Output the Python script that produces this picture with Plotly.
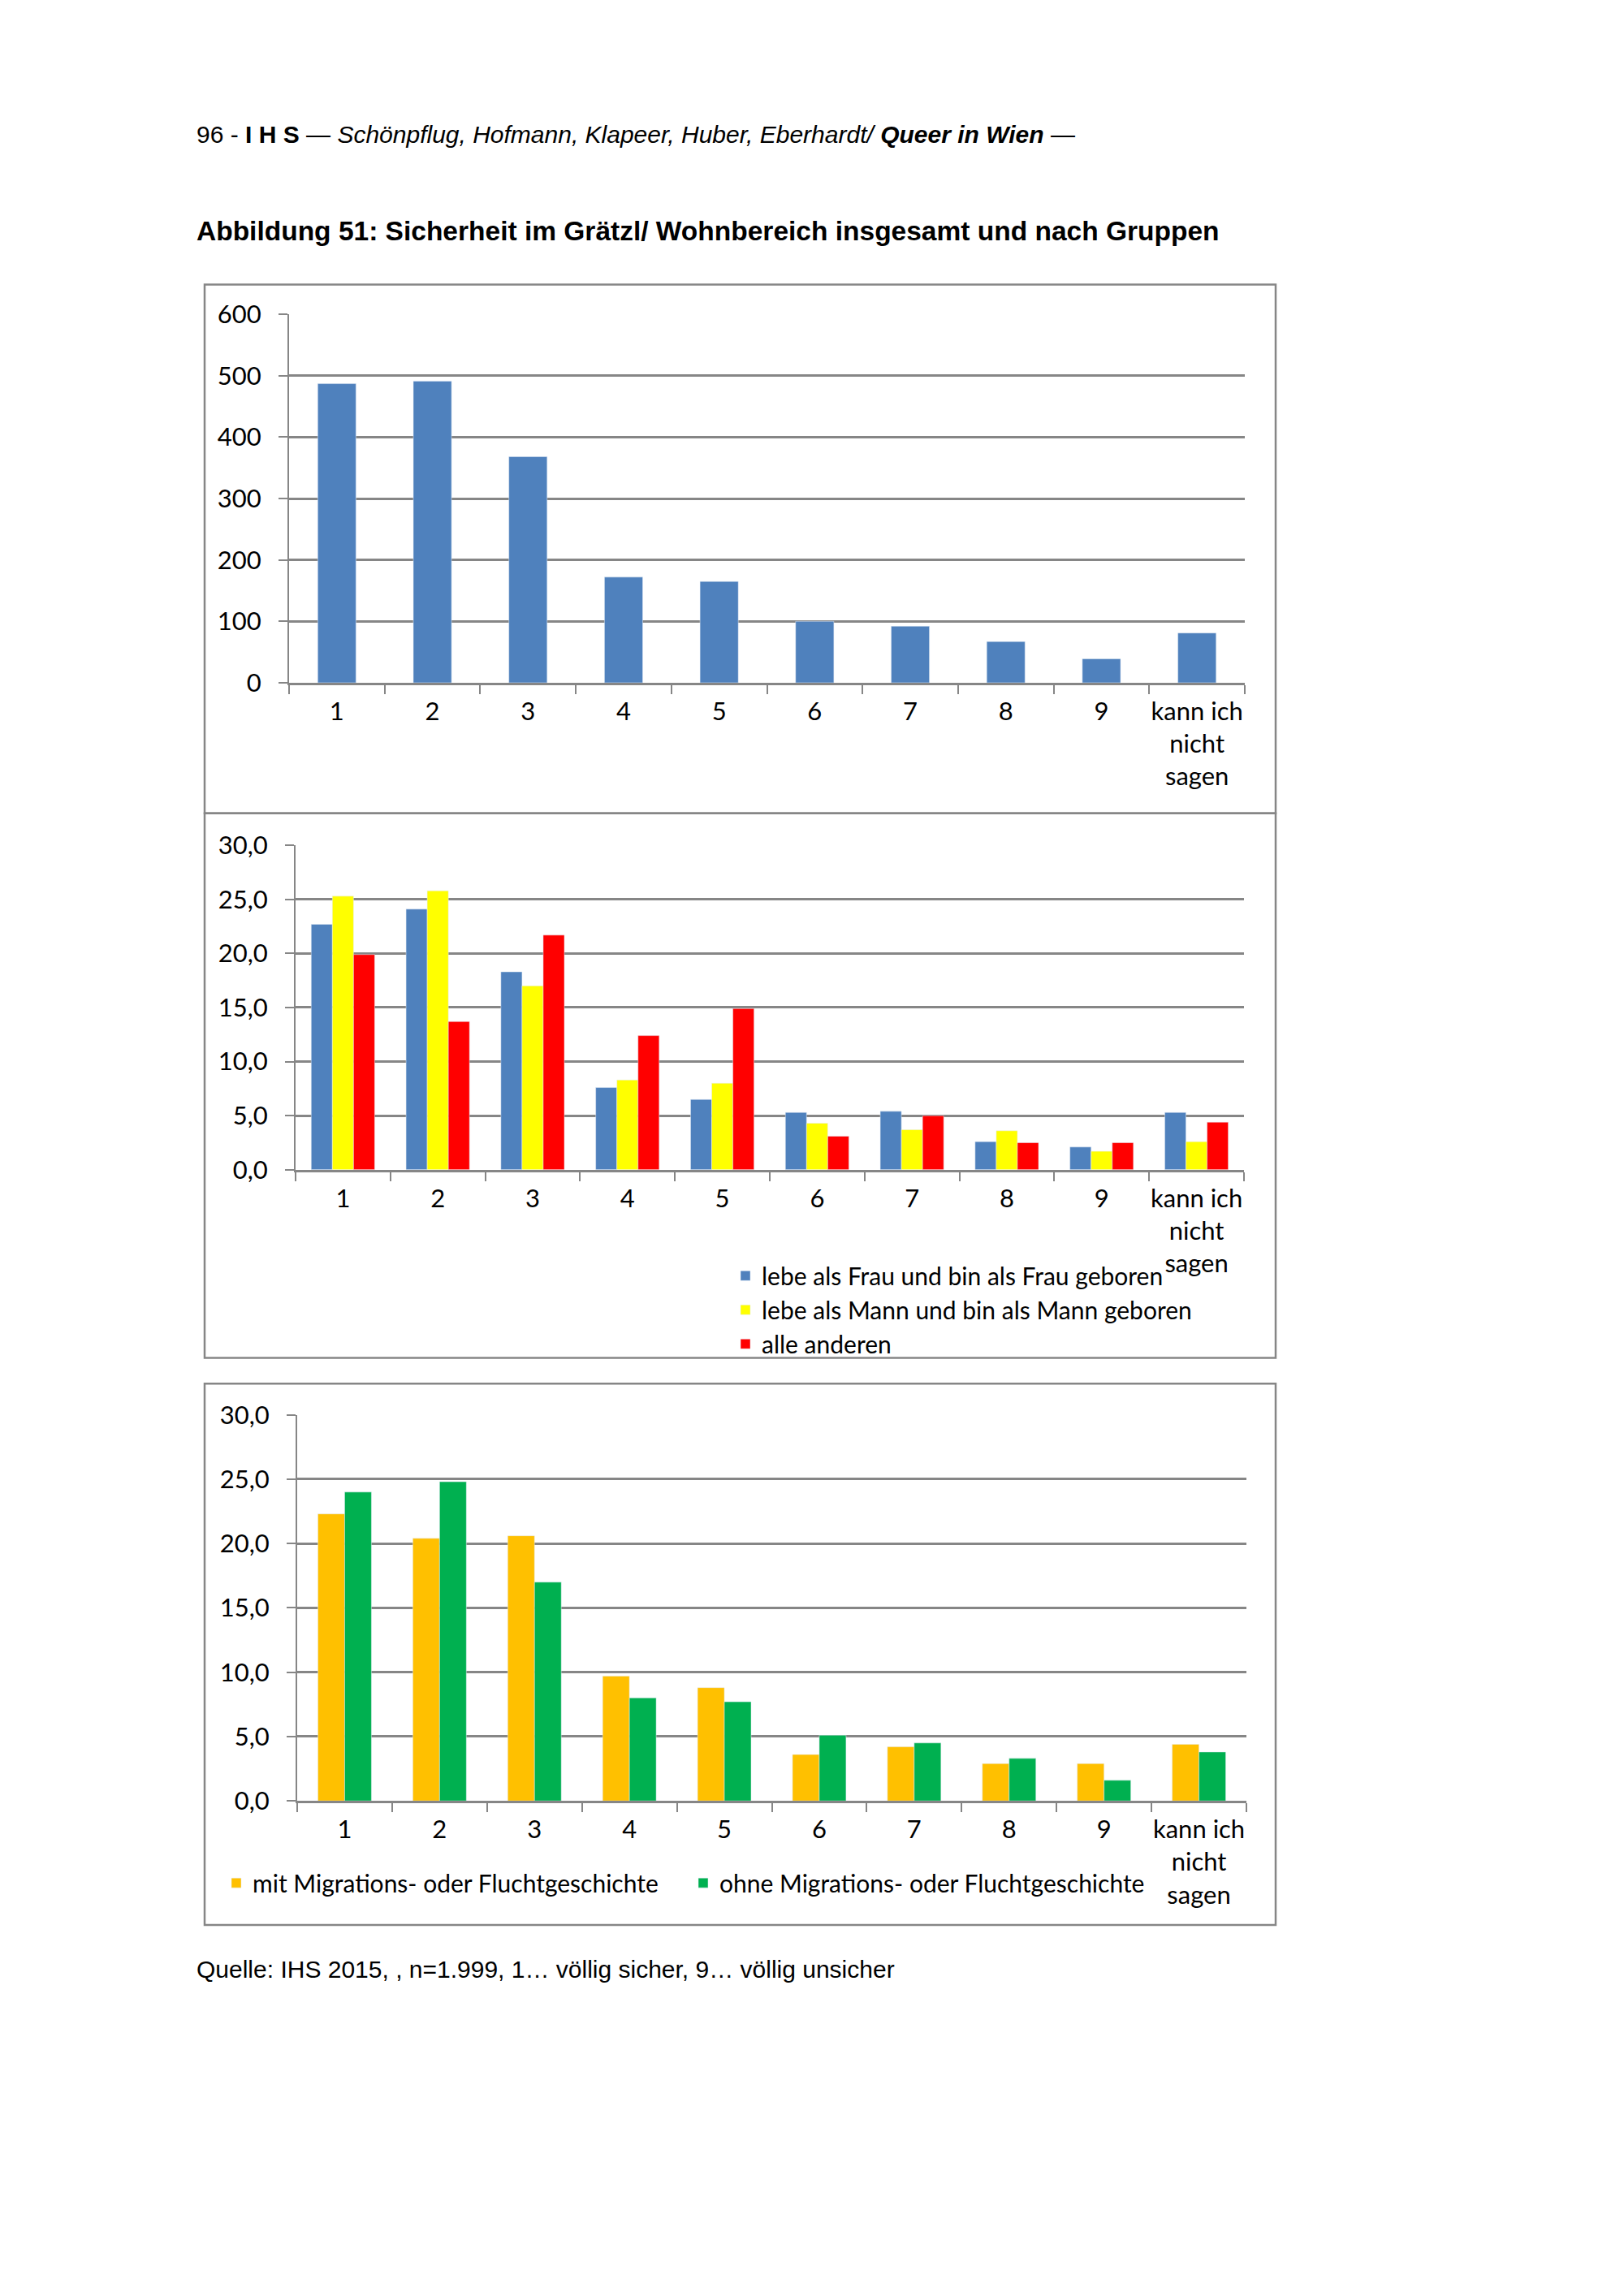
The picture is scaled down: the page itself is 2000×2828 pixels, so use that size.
import plotly.graph_objects as go

W, H = 2000, 2828

# --- Daten ---
kategorien = ["1", "2", "3", "4", "5", "6", "7", "8", "9", "kann ich<br>nicht<br>sagen"]

gesamt = [487, 491, 368, 172, 165, 100, 92, 67, 39, 81]

frau = [22.7, 24.1, 18.3, 7.6, 6.5, 5.3, 5.4, 2.6, 2.1, 5.3]
mann = [25.3, 25.8, 17.0, 8.3, 8.0, 4.3, 3.7, 3.6, 1.7, 2.6]
andere = [19.9, 13.7, 21.7, 12.4, 14.9, 3.1, 5.0, 2.5, 2.5, 4.4]

mit_migration = [22.3, 20.4, 20.6, 9.7, 8.8, 3.6, 4.2, 2.9, 2.9, 4.4]
ohne_migration = [24.0, 24.8, 17.0, 8.0, 7.7, 5.1, 4.5, 3.3, 1.6, 3.8]

namen_gender = ["lebe als Frau und bin als Frau geboren",
                "lebe als Mann und bin als Mann geboren",
                "alle anderen"]
namen_migration = ["mit Migrations- oder Fluchtgeschichte",
                   "ohne Migrations- oder Fluchtgeschichte"]

GRAU = "#868686"
FONT = "Lato"
FS = 31
FS_LEG = 30
RAND = 8  # Body-Rand der HTML-Seite


def px_x(p):
    return (p - RAND) / W


def px_y(p):
    return 1 - (p - RAND) / H


fig = go.Figure()

# Diagramm 1: insgesamt
fig.add_trace(go.Bar(x=kategorien, y=gesamt, marker_color="#4F81BD", width=0.4, offset=-0.2,
                     showlegend=False, xaxis="x", yaxis="y"))

# Diagramm 2: nach Geschlecht
farben2 = ["#4F81BD", "#FFFF00", "#FF0000"]
for i, (name, werte) in enumerate(zip(namen_gender, [frau, mann, andere])):
    fig.add_trace(go.Bar(x=kategorien, y=werte, name=name, marker_color=farben2[i],
                         width=0.223, offset=-0.335 + i * 0.223,
                         xaxis="x2", yaxis="y2", legend="legend2"))

# Diagramm 3: nach Migrationsgeschichte (je Eintrag eine eigene Legende)
farben3 = ["#FFC000", "#00B050"]
legenden3 = ["legend3", "legend4"]
for i, (name, werte) in enumerate(zip(namen_migration, [mit_migration, ohne_migration])):
    fig.add_trace(go.Bar(x=kategorien, y=werte, name=name, marker_color=farben3[i],
                         width=0.282, offset=-0.282 + i * 0.282,
                         xaxis="x3", yaxis="y3", legend=legenden3[i]))


def xachse(x0, x1, anchor):
    return dict(domain=[px_x(x0), px_x(x1)], anchor=anchor, type="category",
                showline=True, linecolor=GRAU, linewidth=2.5,
                ticks="outside", tickson="boundaries", ticklen=11, tickwidth=2, tickcolor=GRAU,
                showgrid=False, tickangle=0, tickfont=dict(family=FONT, size=FS, color="black"),
                ticklabelstandoff=6, fixedrange=True)


def yachse(y_top, y_bot, rng, dtick, fmt, anchor):
    return dict(domain=[px_y(y_bot), px_y(y_top)], anchor=anchor, range=rng, dtick=dtick,
                tickformat=fmt, showline=True, linecolor=GRAU, linewidth=2,
                showgrid=True, gridcolor=GRAU, gridwidth=2.5, zeroline=False,
                ticks="outside", ticklen=11, tickwidth=2, tickcolor=GRAU,
                tickfont=dict(family=FONT, size=FS, color="black"),
                ticklabelstandoff=15, fixedrange=True)


def legende(x, y, orient):
    return dict(x=px_x(x), y=px_y(y), xanchor="left", yanchor="top", orientation=orient,
                font=dict(family=FONT, size=FS_LEG, color="black"),
                bgcolor="rgba(0,0,0,0)", tracegroupgap=0)


rahmen = dict(type="rect", xref="paper", yref="paper", line=dict(color=GRAU, width=2.5),
              fillcolor="rgba(0,0,0,0)", layer="below")

fig.update_layout(
    width=W, height=H, margin=dict(l=0, r=0, t=0, b=0),
    paper_bgcolor="white", plot_bgcolor="white",
    separators=",.",
    barmode="overlay",
    xaxis=xachse(356, 1533, "y"),
    yaxis=yachse(372, 832, [0, 600], 100, "d", "x"),
    xaxis2=xachse(364, 1532, "y2"),
    yaxis2=yachse(1035, 1440, [0, 30], 5, ".1f", "x2"),
    xaxis3=xachse(366, 1535, "y3"),
    yaxis3=yachse(1746, 2228, [0, 30], 5, ".1f", "x3"),
    legend2=legende(898, 1546, "v"),
    legend3=legende(271, 2304, "h"),
    legend4=legende(846, 2304, "h"),
    shapes=[
        dict(rahmen, x0=px_x(252), x1=px_x(1571), y0=px_y(995), y1=px_y(335)),
        dict(rahmen, x0=px_x(252), x1=px_x(1571), y0=px_y(1675), y1=px_y(995)),
        dict(rahmen, x0=px_x(252), x1=px_x(1571), y0=px_y(2383), y1=px_y(1707)),
    ],
    annotations=[
        dict(text="96 - <b>I H S</b> — <i>Schönpflug, Hofmann, Klapeer, Huber, Eberhardt/</i> "
                  "<b><i>Queer in Wien</i></b> —",
             x=px_x(240), y=px_y(147), xref="paper", yref="paper", xanchor="left", yanchor="middle",
             showarrow=False, font=dict(family="Liberation Sans", size=30, color="black")),
        dict(text="<b>Abbildung 51: Sicherheit im Grätzl/ Wohnbereich insgesamt und nach Gruppen</b>",
             x=px_x(240), y=px_y(268), xref="paper", yref="paper", xanchor="left", yanchor="middle",
             showarrow=False, font=dict(family="Liberation Sans", size=33.5, color="black")),
        dict(text="Quelle: IHS 2015, , n=1.999, 1… völlig sicher, 9… völlig unsicher",
             x=px_x(240), y=px_y(2438), xref="paper", yref="paper", xanchor="left", yanchor="middle",
             showarrow=False, font=dict(family="Liberation Sans", size=30, color="black")),
    ],
)

fig.write_html("out.html")
